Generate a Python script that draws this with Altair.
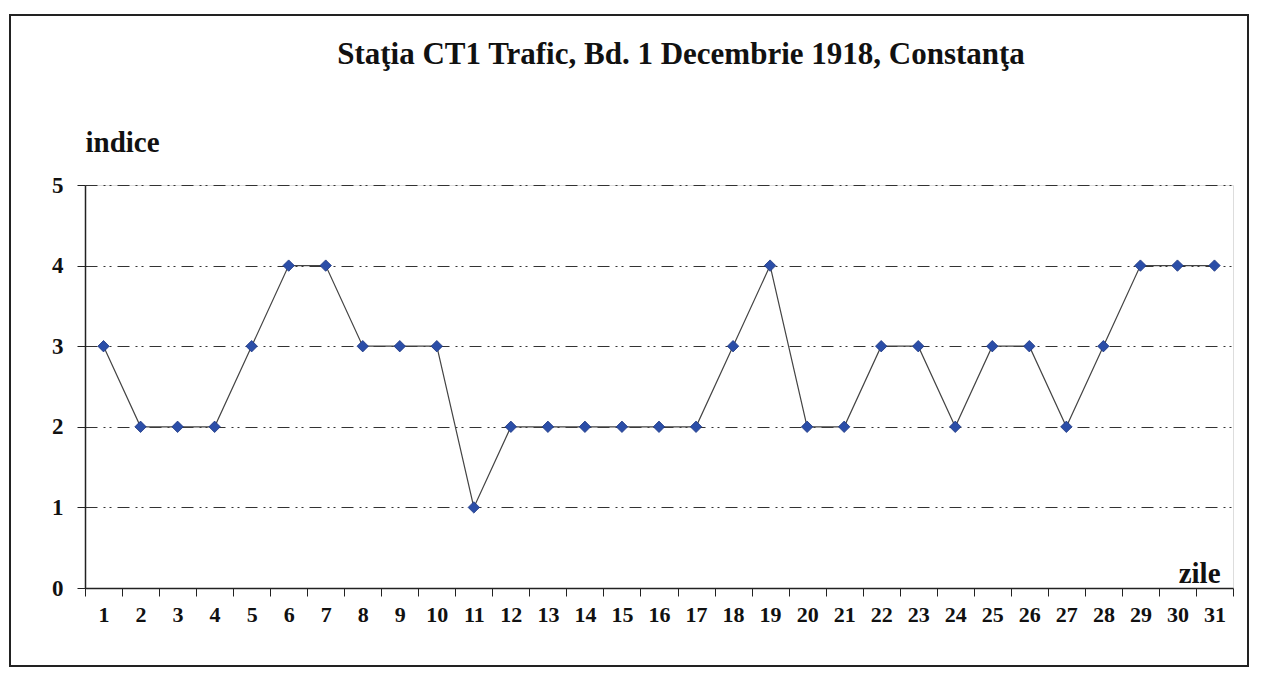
import altair as alt
import pandas as pd

days = list(range(1, 32))
values = [3, 2, 2, 2, 3, 4, 4, 3, 3, 3, 1, 2, 2, 2, 2, 2, 2, 3, 4, 2, 2, 3, 3, 2, 3, 3, 2, 3, 4, 4, 4]
y_ticks = [0, 1, 2, 3, 4, 5]

df = pd.DataFrame({"zi": [str(d) for d in days], "indice": values})
order = [str(d) for d in days]

FONT = "'Times New Roman', 'Liberation Serif', serif"

x_enc = alt.X(
    "zi:N", sort=order,
    scale=alt.Scale(paddingInner=0, paddingOuter=0),
    axis=alt.Axis(
        title="zile", labelAngle=0, labelFont=FONT, labelFontSize=22, labelFontWeight="bold",
        labelColor="#111", labelPadding=8, tickBand="extent", tickSize=8, tickColor="#222",
        domainColor="#222", domainWidth=1.5,
        titleFont=FONT, titleFontSize=29, titleFontWeight="bold", titleColor="#111",
        titleX=1135, titleY=-15, titleAlign="right", titleBaseline="middle",
        grid=False,
    ),
)
y_enc = alt.Y(
    "indice:Q",
    scale=alt.Scale(domain=[0, 5], nice=False),
    axis=alt.Axis(
        title="indice", values=y_ticks, labelFont=FONT, labelFontSize=23, labelFontWeight="bold",
        labelColor="#111", labelPadding=14, tickSize=8, tickColor="#222",
        domainColor="#222", domainWidth=1.5,
        titleFont=FONT, titleFontSize=29, titleFontWeight="bold", titleColor="#111",
        titleAngle=0, titleX=0, titleY=-43, titleAlign="left", titleBaseline="middle",
        grid=True, gridColor="#333", gridWidth=1, gridDash=[12, 6, 2, 4, 2, 6],
    ),
)

line = alt.Chart(df).mark_line(color="#444", strokeWidth=1.2).encode(x=x_enc, y=y_enc)
pts = alt.Chart(df).mark_point(
    shape="diamond", filled=True, size=130, color="#2b4ea8", opacity=1,
    stroke="#1c3580", strokeWidth=0.8,
).encode(x=x_enc, y=y_enc)

frame = alt.Chart(pd.DataFrame({"f": [0]})).mark_rect(
    fill=None, stroke="#222", strokeWidth=2, clip=False
).encode(x=alt.value(-75), x2=alt.value(1163), y=alt.value(-170), y2=alt.value(481))

chart = alt.layer(frame, line, pts).properties(
    width=1148, height=403,
    title=alt.TitleParams(
        "Staţia CT1 Trafic, Bd. 1 Decembrie 1918, Constanţa",
        font=FONT, fontSize=31, fontWeight="bold", color="#111",
        anchor="middle", offset=-57, dx=22,
    ),
    autosize=alt.AutoSizeParams(type="none"),
    padding={"left": 77, "top": 177, "right": 21, "bottom": 87},
).configure_view(stroke=None).configure(background="white")

chart.save("out.html", embed_options={"renderer": "svg", "actions": False})
